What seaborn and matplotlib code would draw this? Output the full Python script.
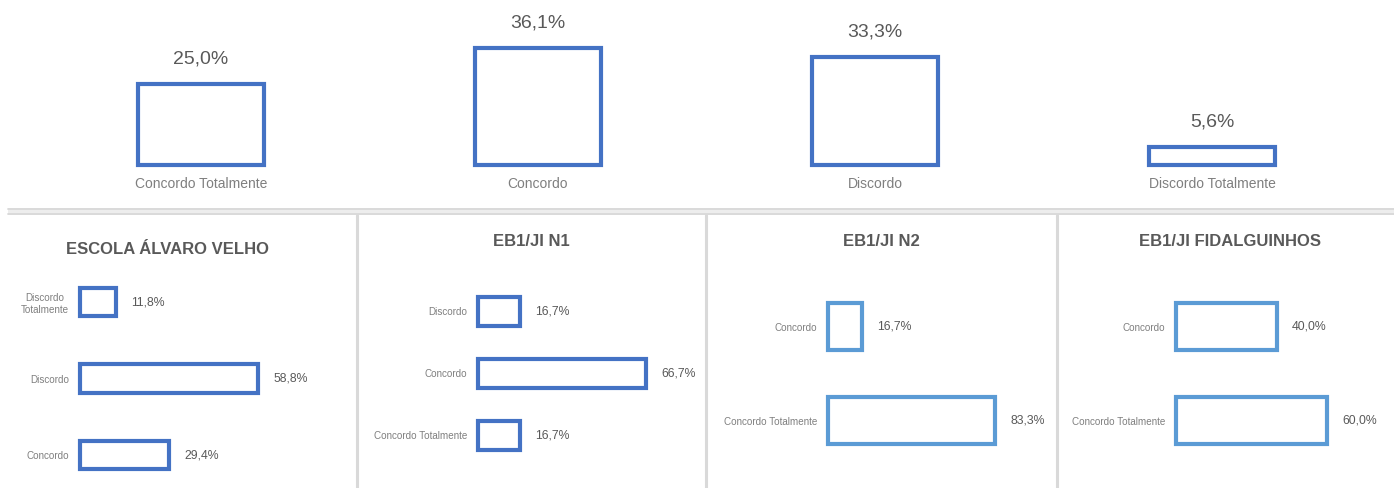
import matplotlib
matplotlib.use("Agg")
import matplotlib.pyplot as plt
import seaborn as sns
from pandas import DataFrame
from matplotlib.lines import Line2D
from matplotlib.patches import Rectangle

# overall answers
total_cats = ["Concordo Totalmente", "Concordo", "Discordo", "Discordo Totalmente"]
total_vals = [25.0, 36.1, 33.3, 5.6]

# per school
alvaro_cats = ["Discordo\nTotalmente", "Discordo", "Concordo"]
alvaro_vals = [11.8, 58.8, 29.4]
n1_cats = ["Discordo", "Concordo", "Concordo Totalmente"]
n1_vals = [16.7, 66.7, 16.7]
n2_cats = ["Concordo", "Concordo Totalmente"]
n2_vals = [16.7, 83.3]
fid_cats = ["Concordo", "Concordo Totalmente"]
fid_vals = [40.0, 60.0]

titles = ["ESCOLA ÁLVARO VELHO", "EB1/JI N1", "EB1/JI N2", "EB1/JI FIDALGUINHOS"]

DARK_BLUE = "#4472C4"
LIGHT_BLUE = "#5B9BD5"
TEXT_DARK = "#595959"
TEXT_LIGHT = "#7F7F7F"
SEP = "#D9D9D9"

W, H = 1394, 488

sns.set_style("white")
plt.rcParams["font.family"] = ["Liberation Sans", "DejaVu Sans"]


def pct(v):
    return f"{v:.1f}%".replace(".", ",")


def box(left, top, width, height):
    # pixel box -> figure fraction rect
    return [left / W, (H - top - height) / H, width / W, height / H]


fig = plt.figure(figsize=(W / 100, H / 100), dpi=100)

# ---- top chart ----
ax = fig.add_axes(box(32.5, 165 - 42 * 3.25, 1348, 42 * 3.25))
df = DataFrame({"cat": total_cats, "val": total_vals})
sns.barplot(data=df, x="cat", y="val", ax=ax, fill=False, color=DARK_BLUE,
            saturation=1, linewidth=3, width=0.374)
ax.set_xlim(-0.5, 3.5)
ax.set_ylim(0, 42)
ax.bar_label(ax.containers[0], labels=[pct(v) for v in total_vals], padding=11.5,
             fontsize=14, color=TEXT_DARK)
ax.set_yticks([])
ax.set_xlabel("")
ax.set_ylabel("")
ax.tick_params(axis="x", length=0, pad=8.5, labelsize=10, labelcolor=TEXT_LIGHT)
for s in ax.spines.values():
    s.set_visible(False)
for p in ax.patches:
    p.set_clip_on(False)

# ---- bottom panels ----
panels = [
    (alvaro_cats, alvaro_vals, DARK_BLUE, 80, 3.03, 85, 0.37, (2.431, -0.497), (168, 249)),
    (n1_cats, n1_vals, DARK_BLUE, 478, 2.52, 85, 0.48, (2.847, -0.766), (531, 241)),
    (n2_cats, n2_vals, LIGHT_BLUE, 828, 2.01, 105, 0.5, (1.718, -0.665), (881, 241)),
    (fid_cats, fid_vals, LIGHT_BLUE, 1176, 2.52, 80, 0.5, (1.718, -0.665), (1230, 241)),
]

for title, (cats, vals, col, left, scale, xmax, bw, ylim, tpos) in zip(titles, panels):
    bax = fig.add_axes(box(left, 264, xmax * scale, 224))
    d = DataFrame({"cat": cats, "val": vals})
    sns.barplot(data=d, x="val", y="cat", ax=bax, orient="h", fill=False, color=col,
                saturation=1, linewidth=3, width=bw)
    bax.set_xlim(0, xmax)
    bax.set_ylim(*ylim)
    bax.bar_label(bax.containers[0], labels=[pct(v) for v in vals], padding=11,
                  fontsize=8.8, color=TEXT_DARK)
    bax.set_xticks([])
    bax.set_xlabel("")
    bax.set_ylabel("")
    bax.tick_params(axis="y", length=0, pad=8, labelsize=7.1, labelcolor=TEXT_LIGHT)
    for lab in bax.get_yticklabels():
        lab.set_multialignment("center")
    for s in bax.spines.values():
        s.set_visible(False)
    for p in bax.patches:
        p.set_clip_on(False)
    fig.text(tpos[0] / W, 1 - tpos[1] / H, title, ha="center", va="center",
             fontsize=12, fontweight="bold", color=TEXT_DARK)

# ---- separators ----
fig.add_artist(Rectangle((8 / W, 1 - 215 / H), (W - 8) / W, 7 / H,
                         transform=fig.transFigure, facecolor="#EDEDED", edgecolor="none"))
for yy in (209, 214):
    fig.add_artist(Line2D([8 / W, 1], [1 - yy / H] * 2, transform=fig.transFigure,
                          color=SEP, linewidth=1.3))
for xx in (357, 706, 1057):
    fig.add_artist(Line2D([xx / W] * 2, [1 - 215 / H, 0], transform=fig.transFigure,
                          color=SEP, linewidth=2.2))

fig.savefig("out.png", dpi=100)
plt.close(fig)
